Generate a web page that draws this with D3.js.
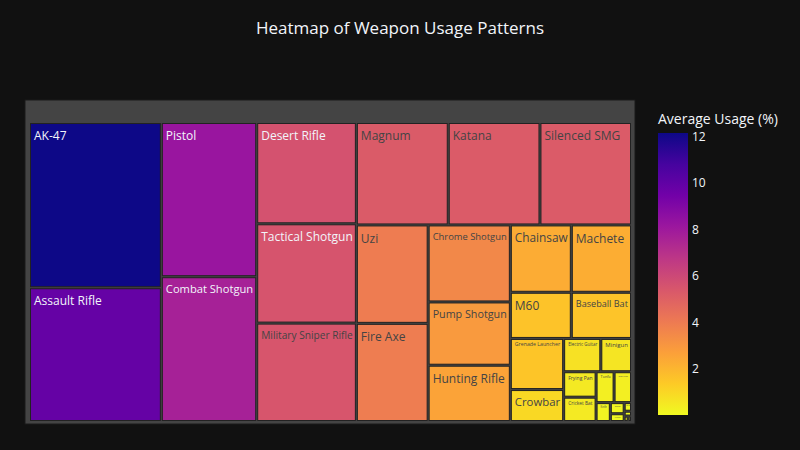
<!DOCTYPE html>
<html><head><meta charset="utf-8">
<script src="https://cdn.jsdelivr.net/npm/d3@7"></script>
<style>
body{margin:0;background:#111111;}
svg{display:block;font-family:"Open Sans",Verdana,Arial,sans-serif;}
</style></head>
<body><svg id="chart" width="800" height="450"></svg>
<script>
const weapons = ["AK-47","Assault Rifle","Pistol","Combat Shotgun","Desert Rifle","Tactical Shotgun",
  "Military Sniper Rifle","Magnum","Katana","Silenced SMG","Uzi","Fire Axe","Chrome Shotgun",
  "Pump Shotgun","Hunting Rifle","Chainsaw","Machete","M60","Baseball Bat","Grenade Launcher",
  "Crowbar","Electric Guitar","Minigun","Frying Pan","Cricket Bat","Tonfa","Golf Club",
  "Knife","Shovel","Pitchfork","Riot Shield","Flare Gun","Nail Gun","Bow"];
const usage = [12.15,9.84,8.2,7.7,5.63,5.52,5.47,5.25,5.24,5.23,3.94,3.93,3.53,2.9,2.58,2.29,2.26,
  1.57,1.55,1.52,0.95,0.69,0.57,0.46,0.44,0.31,0.30,0.15,0.086,0.06,0.035,0.02,0.012,0.01];
const colorbarTicks = [2,4,6,8,10,12];
const plasma = ['#0d0887','#46039f','#7201a8','#9c179e','#bd3786','#d8576b','#ed7953','#fb9f3a','#fdca26','#f0f921'];

const svg = d3.select("#chart");
svg.append("rect").attr("width",800).attr("height",450).attr("fill","#111111");
const defs=svg.append("defs");

const vmin = d3.min(usage), vmax = d3.max(usage);
const color = d3.scaleLinear()
  .domain(plasma.map((c,i)=> vmax - i*(vmax-vmin)/(plasma.length-1)))
  .range(plasma).interpolate(d3.interpolateRgb);

const data = {name:"", children: weapons.map((w,i)=>({name:w, value:usage[i]}))};
const root = d3.hierarchy(data).sum(d=>d.value||0).sort((a,b)=>b.value-a.value);
d3.treemap().tile(d3.treemapSquarify.ratio(1))
  .size([610,324]).paddingTop(23).paddingLeft(5).paddingRight(4).paddingBottom(3).paddingInner(1)(root);

const g = svg.append("g").attr("transform","translate(25,100)");
g.append("rect").attr("x",root.x0).attr("y",root.y0)
  .attr("width",root.x1-root.x0).attr("height",root.y1-root.y0)
  .attr("fill","#444444").attr("stroke","#1a1a1a").attr("stroke-width",1);

function brightness(c){const r=d3.rgb(c);return (r.r*299+r.g*587+r.b*114)/1000;}

const lv = root.leaves();
defs.selectAll("clipPath").data(lv).join("clipPath").attr("id",(d,i)=>"clip"+i)
  .append("rect").attr("x",d=>d.x0+1).attr("y",d=>d.y0+1)
  .attr("width",d=>Math.max(0,d.x1-d.x0-2)).attr("height",d=>Math.max(0,d.y1-d.y0-2));

const leaves = g.selectAll("g.leaf").data(lv).join("g").attr("class","leaf");
leaves.append("rect")
  .attr("x",d=>d.x0+0.5).attr("y",d=>d.y0+0.5)
  .attr("width",d=>Math.max(0,d.x1-d.x0-1)).attr("height",d=>Math.max(0,d.y1-d.y0-1))
  .attr("fill",d=>color(d.value)).attr("stroke","#222222").attr("stroke-width",1);
leaves.append("text")
  .attr("clip-path",(d,i)=>`url(#clip${i})`)
  .text(d=>d.data.name)
  .attr("font-size",12)
  .attr("fill",d=>brightness(color(d.value))>=126?"#444444":"#f2f5fa")
  .each(function(d){
    const w=d.x1-d.x0, h=d.y1-d.y0;
    const len=this.getComputedTextLength();
    let fs=Math.min(12,(w-7)*12/len,(h-4)/1.25);
    fs=Math.max(fs,1.2);
    const xOff = w>12?4:1.5;
    d3.select(this).attr("font-size",fs)
      .attr("x",d.x0+xOff)
      .attr("y",d.y0+(fs>=9?4.5:2)+fs*1.05);
  });

// title
svg.append("text").attr("x",400).attr("y",34).attr("text-anchor","middle")
  .attr("fill","#f2f5fa").attr("font-size",17).text("Heatmap of Weapon Usage Patterns");

// colorbar
const cbX=658, cbW=30, cbTop=133, cbBot=415;
const cy = d3.scaleLinear().domain([vmin,vmax]).range([cbBot,cbTop]);
const grad=defs.append("linearGradient").attr("id","cbgrad").attr("x1",0).attr("y1",1).attr("x2",0).attr("y2",0);
plasma.slice().reverse().forEach((c,i)=>grad.append("stop").attr("offset",i/(plasma.length-1)).attr("stop-color",c));
svg.append("rect").attr("x",cbX).attr("y",cbTop).attr("width",cbW).attr("height",cbBot-cbTop).attr("fill","url(#cbgrad)");
const ax = d3.axisRight(cy).tickValues(colorbarTicks).tickSize(0).tickPadding(4);
const axg = svg.append("g").attr("transform",`translate(${cbX+cbW},0)`).call(ax);
axg.select(".domain").remove();
axg.selectAll("text").attr("fill","#f2f5fa").attr("font-size",12).attr("font-family","\"Open Sans\",Verdana,Arial,sans-serif");
svg.append("text").attr("x",cbX).attr("y",124).attr("fill","#f2f5fa").attr("font-size",14).text("Average Usage (%)");
</script></body></html>
